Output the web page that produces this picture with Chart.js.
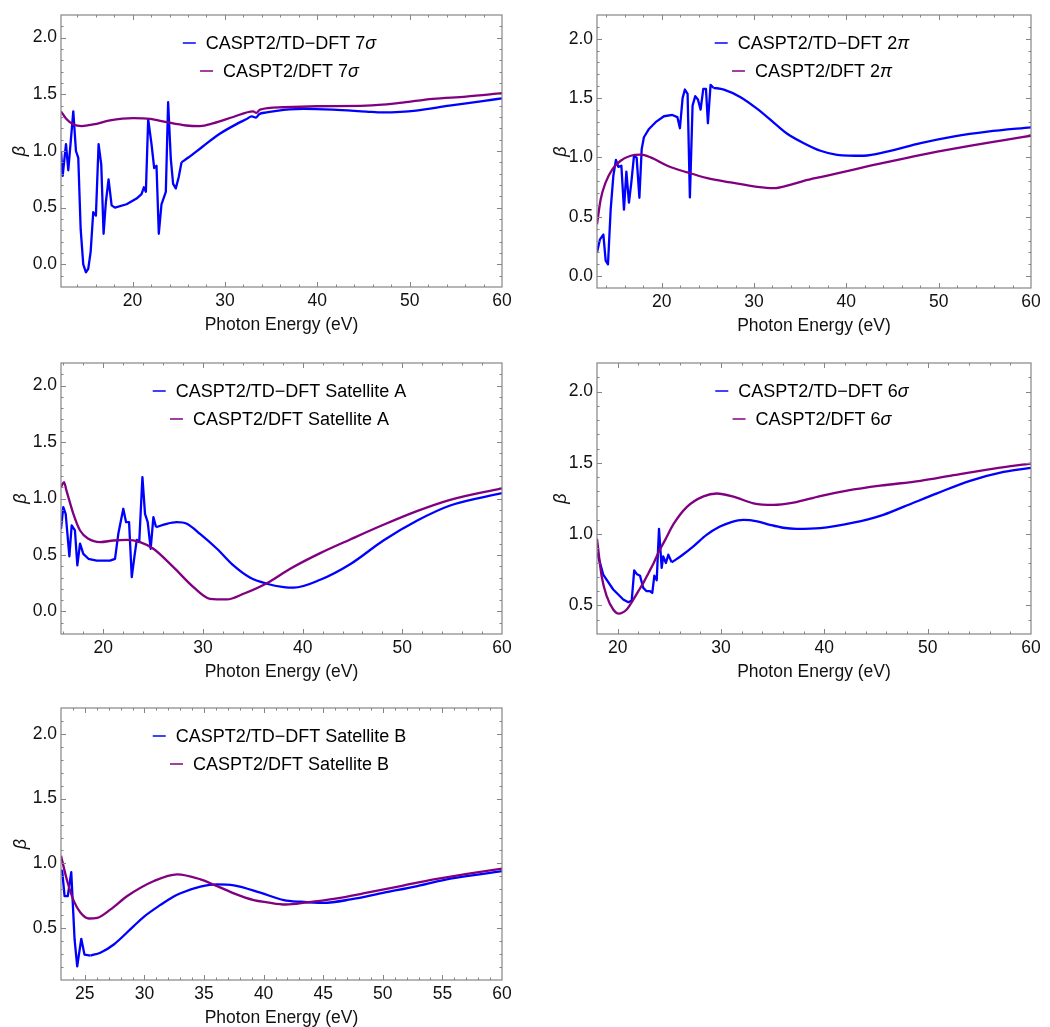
<!DOCTYPE html>
<html>
<head>
<meta charset="utf-8">
<title>Photoelectron asymmetry parameters</title>
<script src="https://cdn.jsdelivr.net/npm/chart.js@4.4.1/dist/chart.umd.min.js"></script>
<style>
  html, body { margin: 0; padding: 0; background: #fff; overflow: hidden; }
  #page { position: relative; width: 1050px; height: 1027px; }
  canvas { position: absolute; }
</style>
</head>
<body>
<div id="page">
  <canvas id="p7s" width="520" height="345" style="left:0;top:0"></canvas>
  <canvas id="p2pi" width="520" height="345" style="left:530px;top:0"></canvas>
  <canvas id="pSatA" width="520" height="345" style="left:0;top:345px"></canvas>
  <canvas id="p6s" width="520" height="345" style="left:530px;top:345px"></canvas>
  <canvas id="pSatB" width="520" height="345" style="left:0;top:690px"></canvas>
</div>
<script>
"use strict";

// beta parameters vs photon energy (eV)
// 7 sigma
let e7sTd = [12.25, 12.43, 12.79, 13.04, 13.58, 13.87, 14.12, 14.38, 14.66, 14.95, 15.2, 15.46, 15.74, 16.03,
  16.32, 16.61, 16.86, 17.11, 17.4, 17.73, 18.09, 19.35, 20.43, 20.97, 21.22, 21.44, 21.69, 22.05, 22.34,
  22.59, 22.84, 23.13, 23.6, 23.85, 24.14, 24.39, 24.68, 25.0, 25.3, 26.0, 27.6, 29.4, 31.2, 32.3, 32.9,
  33.35, 33.7, 34.5, 35.6, 37.0, 38.5, 41.7, 45.3, 47.1, 49.0, 50.7, 54.3, 57.9, 60];
let b7sTd = [1.0, 0.78, 1.06, 0.83, 1.35, 1.0, 0.94, 0.31, 0.0, -0.07, -0.04, 0.11, 0.46, 0.43,
  1.06, 0.88, 0.27, 0.55, 0.75, 0.52, 0.5, 0.53, 0.58, 0.62, 0.68, 0.64, 1.28, 1.06, 0.85,
  0.87, 0.27, 0.53, 0.64, 1.43, 0.93, 0.71, 0.67, 0.77, 0.9, 0.94, 1.04, 1.15, 1.235, 1.28, 1.305,
  1.295, 1.325, 1.34, 1.355, 1.368, 1.372, 1.365, 1.348, 1.34, 1.345, 1.357, 1.4, 1.44, 1.465];
let e7sDft = [12.25, 12.86, 13.6, 14.5, 15.75, 17.55, 20.07, 21.9, 23.7, 25.8, 27.3, 28.7, 30.9, 33.05,
  33.4, 33.8, 36.3, 39.9, 45.3, 48.9, 52.5, 56.1, 60];
let b7sDft = [1.35, 1.28, 1.234, 1.22, 1.234, 1.27, 1.29, 1.284, 1.254, 1.225, 1.22, 1.243, 1.3, 1.35,
  1.336, 1.365, 1.386, 1.395, 1.4, 1.424, 1.46, 1.48, 1.51];

// 2 pi
let e2piTd = [13.0, 13.32, 13.69, 13.94, 14.19, 14.48, 14.77, 15.05, 15.31, 15.64, 15.92, 16.18, 16.46, 16.72,
  17.0, 17.29, 17.59, 17.84, 18.08, 18.63, 19.35, 20.25, 21.16, 21.7, 21.98, 22.27, 22.52, 22.81, 23.06,
  23.35, 23.64, 23.93, 24.22, 24.51, 24.8, 25.01, 25.3, 25.6, 26.74, 28.55, 30.36, 32.52, 33.6, 35.4,
  37.2, 39.0, 41.9, 44.4, 48.05, 51.7, 55.3, 60];
let b2piTd = [0.2, 0.31, 0.35, 0.13, 0.1, 0.56, 0.845, 0.98, 0.92, 0.93, 0.56, 0.88, 0.62, 0.79,
  1.01, 1.0, 0.66, 1.07, 1.17, 1.24, 1.297, 1.347, 1.358, 1.34, 1.246, 1.5, 1.572, 1.536, 0.663,
  1.437, 1.516, 1.488, 1.403, 1.578, 1.578, 1.288, 1.612, 1.587, 1.572, 1.508, 1.409, 1.268, 1.2, 1.12,
  1.056, 1.022, 1.014, 1.048, 1.12, 1.177, 1.217, 1.254];
let e2piDft = [13.0, 13.4, 13.94, 14.66, 15.56, 16.65, 17.73, 18.81, 20.62, 22.78, 24.95, 27.47, 30.36, 32.15,
  33.6, 35.4, 37.2, 39.0, 42.6, 46.2, 49.85, 53.5, 57.1, 60];
let b2piDft = [0.437, 0.648, 0.79, 0.9, 0.972, 1.014, 1.023, 1.0, 0.93, 0.874, 0.826, 0.79, 0.752, 0.741,
  0.762, 0.803, 0.835, 0.865, 0.93, 0.99, 1.048, 1.1, 1.146, 1.183];

// satellite A
let eSatATd = [15.75, 15.98, 16.22, 16.59, 16.82, 17.15, 17.39, 17.66, 17.99, 18.5, 19.33, 20.67, 21.17, 21.5,
  22.0, 22.28, 22.58, 22.85, 23.11, 23.35, 23.6, 23.92, 24.18, 24.45, 24.75, 25.02, 25.29, 26.36, 27.36,
  28.37, 29.7, 31.4, 33.05, 34.7, 36.4, 38.1, 39.1, 41.76, 44.8, 48.1, 51.5, 54.8, 60];
let bSatATd = [0.73, 0.923, 0.864, 0.487, 0.761, 0.717, 0.407, 0.6, 0.51, 0.466, 0.45, 0.45, 0.466, 0.687,
  0.909, 0.79, 0.79, 0.304, 0.48, 0.634, 0.614, 1.19, 0.864, 0.79, 0.555, 0.835, 0.746, 0.776, 0.79,
  0.776, 0.687, 0.555, 0.407, 0.3, 0.245, 0.215, 0.21, 0.28, 0.42, 0.628, 0.805, 0.938, 1.047];
let eSatADft = [15.75, 16.05, 16.3, 16.99, 17.66, 18.5, 19.67, 21.0, 22.34, 23.68, 25.02, 27.03, 29.04, 30.7,
  32.4, 34.06, 36.4, 38.75, 41.76, 44.77, 48.1, 51.46, 54.8, 60];
let bSatADft = [1.1, 1.145, 1.07, 0.864, 0.717, 0.643, 0.614, 0.628, 0.634, 0.614, 0.555, 0.392, 0.215, 0.112,
  0.106, 0.156, 0.25, 0.378, 0.516, 0.637, 0.767, 0.888, 0.988, 1.09];

// 6 sigma
let e6sTd = [18.0, 18.12, 18.6, 19.57, 20.54, 21.03, 21.36, 21.6, 21.84, 22.16, 22.48, 22.8, 23.13, 23.35,
  23.55, 23.78, 24.0, 24.26, 24.41, 24.67, 24.9, 25.23, 26.2, 27.33, 28.6, 29.9, 31.0, 32.17, 33.5, 34.75,
  36.0, 37.3, 39.6, 42.8, 45.4, 47.7, 50.9, 54.1, 57.35, 60];
let b6sTd = [0.87, 0.844, 0.716, 0.612, 0.542, 0.523, 0.535, 0.746, 0.721, 0.709, 0.623, 0.6, 0.6, 0.588,
  0.709, 0.677, 1.037, 0.763, 0.844, 0.798, 0.856, 0.802, 0.85, 0.914, 0.995, 1.053, 1.085, 1.1, 1.09, 1.065,
  1.045, 1.037, 1.042, 1.08, 1.128, 1.193, 1.286, 1.374, 1.437, 1.465];
let e6sDft = [18.0, 18.45, 18.94, 19.57, 20.1, 20.87, 21.5, 22.0, 22.5, 23.0, 23.5, 24.0, 24.6, 25.4,
  26.68, 28.3, 29.6, 31.2, 33.14, 35.08, 37.0, 39.6, 42.2, 45.4, 49.3, 52.5, 56.4, 60];
let b6sDft = [0.967, 0.705, 0.565, 0.472, 0.443, 0.472, 0.54, 0.6, 0.66, 0.73, 0.8, 0.88, 0.96, 1.07,
  1.19, 1.265, 1.285, 1.263, 1.216, 1.205, 1.221, 1.267, 1.305, 1.34, 1.374, 1.414, 1.46, 1.495];

// satellite B
let eSatBTd = [23.0, 23.1, 23.3, 23.57, 23.86, 24.14, 24.36, 24.7, 24.97, 25.48, 26.3, 27.43, 29.1, 29.95,
  31.35, 32.46, 33.03, 34.7, 36.1, 37.5, 39.73, 41.7, 43.1, 45.0, 47.3, 50.1, 52.9, 55.67, 60];
let bSatBTd = [0.95, 0.941, 0.748, 0.748, 0.933, 0.413, 0.206, 0.418, 0.296, 0.289, 0.31, 0.374, 0.516, 0.588,
  0.68, 0.745, 0.77, 0.82, 0.838, 0.83, 0.774, 0.717, 0.704, 0.696, 0.722, 0.774, 0.825, 0.882, 0.94];
let eSatBDft = [23.0, 23.52, 24.08, 24.64, 25.34, 26.04, 27.16, 28.56, 30.8, 32.75, 34.7, 36.1, 37.5, 39.17,
  40.3, 41.83, 43.65, 45.88, 48.68, 51.5, 54.27, 57.07, 60];
let bSatBDft = [1.06, 0.864, 0.709, 0.62, 0.575, 0.58, 0.645, 0.748, 0.864, 0.916, 0.877, 0.825, 0.769, 0.717,
  0.7, 0.683, 0.7, 0.727, 0.774, 0.825, 0.877, 0.92, 0.96];

// tick labels
let xTicks = [20, 30, 40, 50, 60];
let xTicksSatB = [25, 30, 35, 40, 45, 50, 55, 60];
let yTicks = [0, 0.5, 1, 1.5, 2];
let yTicksHigh = [0.5, 1, 1.5, 2];

const BLUE = '#0000ff';
const PURPLE = '#800080';
const FONT = '"Liberation Sans", Arial, sans-serif';

function pts(xs, ys) {
  return xs.map((x, i) => ({x: x, y: ys[i]}));
}

// Mathematica-style frame: box with inward major and minor ticks on all four sides
const frameTicks = {
  id: 'frameTicks',
  afterDraw(chart, args, opts) {
    const {ctx, chartArea: a, scales: {x, y}} = chart;
    ctx.save();
    ctx.strokeStyle = '#858585';
    ctx.lineWidth = 1.2;
    ctx.strokeRect(a.left, a.top, a.right - a.left, a.bottom - a.top);
    ctx.lineWidth = 1;
    const run = (scale, step, len, horiz) => {
      const start = Math.ceil(scale.min / step - 1e-9);
      const end = Math.floor(scale.max / step + 1e-9);
      for (let k = start; k <= end; k++) {
        const p = Math.round(scale.getPixelForValue(k * step)) + 0.5;
        ctx.beginPath();
        if (horiz) {
          if (p < a.left + 1 || p > a.right - 1) continue;
          ctx.moveTo(p, a.bottom); ctx.lineTo(p, a.bottom - len);
          ctx.moveTo(p, a.top); ctx.lineTo(p, a.top + len);
        } else {
          if (p < a.top + 1 || p > a.bottom - 1) continue;
          ctx.moveTo(a.left, p); ctx.lineTo(a.left + len, p);
          ctx.moveTo(a.right, p); ctx.lineTo(a.right - len, p);
        }
        ctx.stroke();
      }
    };
    run(x, opts.xMinor, 2.5, true);
    run(x, opts.xMajor, 5, true);
    run(y, 0.1, 2.5, false);
    run(y, 0.5, 5, false);
    ctx.restore();
  }
};

// two-row legend centred inside the frame; greek letters set in italic
const curveLegend = {
  id: 'curveLegend',
  afterDraw(chart) {
    const {ctx, chartArea: a} = chart;
    const cx = (a.left + a.right) / 2 - 2;
    const greek = /([\u0370-\u03ff])/;
    const fontOf = p => (greek.test(p) ? 'italic ' : '') + '18px ' + FONT;
    ctx.save();
    ctx.textBaseline = 'middle';
    chart.data.datasets.filter(ds => ds.label).forEach((ds, i) => {
      const rowY = a.top + 28 + i * 28;
      const parts = ds.label.split(greek).filter(Boolean);
      let w = 0;
      parts.forEach(p => { ctx.font = fontOf(p); w += ctx.measureText(p).width; });
      let x = cx - (23 + w) / 2;
      ctx.strokeStyle = ds.borderColor;
      ctx.lineWidth = 1.5;
      ctx.beginPath();
      ctx.moveTo(x, rowY);
      ctx.lineTo(x + 13, rowY);
      ctx.stroke();
      x += 23;
      ctx.fillStyle = '#000';
      parts.forEach(p => {
        ctx.font = fontOf(p);
        ctx.fillText(p, x, rowY + 1);
        x += ctx.measureText(p).width;
      });
    });
    ctx.restore();
  }
};

function makePanel(id, cfg) {
  const ctx = document.getElementById(id).getContext('2d');
  const td = pts(cfg.eTd, cfg.bTd);
  // resonance region drawn point to point, the smooth continuum as a spline
  const tdRough = td.filter(p => p.x <= cfg.smoothFrom);
  const tdSmooth = td.filter(p => p.x >= cfg.smoothFrom);
  return new Chart(ctx, {
    type: 'line',
    data: {
      datasets: [{
        label: 'CASPT2/TD\u2212DFT ' + cfg.name,
        data: tdRough,
        borderColor: BLUE,
        borderWidth: 2.3,
        pointRadius: 0,
        tension: 0,
        borderJoinStyle: 'round',
        order: 2
      }, {
        label: 'CASPT2/DFT ' + cfg.name,
        data: pts(cfg.eDft, cfg.bDft),
        borderColor: PURPLE,
        borderWidth: 2.3,
        pointRadius: 0,
        cubicInterpolationMode: 'monotone',
        order: 0
      }, {
        label: '',
        data: tdSmooth,
        borderColor: BLUE,
        borderWidth: 2.3,
        pointRadius: 0,
        cubicInterpolationMode: 'monotone',
        order: 1
      }]
    },
    options: {
      responsive: false,
      animation: false,
      events: [],
      layout: {padding: {left: 0, top: cfg.padTop, right: cfg.padRight, bottom: cfg.padBottom}},
      plugins: {
        legend: {display: false},
        tooltip: {enabled: false},
        frameTicks: {xMajor: cfg.xMajor, xMinor: cfg.xMinor}
      },
      scales: {
        x: {
          type: 'linear',
          min: cfg.xMin,
          max: 60,
          afterBuildTicks: s => { s.ticks = cfg.xTicks.map(v => ({value: v})); },
          afterFit: s => { s.height = 53; },
          grid: {display: false, drawTicks: false},
          border: {display: false},
          ticks: {
            autoSkip: false,
            maxRotation: 0,
            padding: 4,
            color: '#111',
            font: {family: FONT, size: 17.5},
            callback: v => String(v)
          },
          title: {
            display: true,
            text: 'Photon Energy (eV)',
            color: '#111',
            font: {family: FONT, size: 17.5},
            padding: {top: 0, bottom: 4.5}
          }
        },
        y: {
          min: cfg.yMin,
          max: 2.2,
          afterBuildTicks: s => { s.ticks = cfg.yTicks.map(v => ({value: v})); },
          afterFit: s => { s.width = cfg.yWidth; },
          grid: {display: false, drawTicks: false},
          border: {display: false},
          ticks: {
            autoSkip: false,
            padding: 4,
            color: '#111',
            font: {family: FONT, size: 17.5},
            callback: v => v.toFixed(1)
          },
          title: {
            display: true,
            text: '\u03b2',
            color: '#111',
            font: {family: FONT, size: 18, style: 'italic'},
            padding: {top: cfg.betaPad, bottom: 0}
          }
        }
      }
    },
    plugins: [frameTicks, curveLegend]
  });
}

makePanel('p7s', {
  name: '7\u03c3', eTd: e7sTd, bTd: b7sTd, eDft: e7sDft, bDft: b7sDft, smoothFrom: 25.3,
  xMin: 12.25, yMin: -0.2, xTicks: xTicks, yTicks: yTicks, xMajor: 10, xMinor: 2,
  padTop: 15, padRight: 18, padBottom: 5, yWidth: 61, betaPad: 9
});
makePanel('p2pi', {
  name: '2\u03c0', eTd: e2piTd, bTd: b2piTd, eDft: e2piDft, bDft: b2piDft, smoothFrom: 25.6,
  xMin: 13, yMin: -0.1, xTicks: xTicks, yTicks: yTicks, xMajor: 10, xMinor: 2,
  padTop: 15, padRight: 19, padBottom: 4, yWidth: 67, betaPad: 20
});
makePanel('pSatA', {
  name: 'Satellite A', eTd: eSatATd, bTd: bSatATd, eDft: eSatADft, bDft: bSatADft, smoothFrom: 25.29,
  xMin: 15.75, yMin: -0.2, xTicks: xTicks, yTicks: yTicks, xMajor: 10, xMinor: 2,
  padTop: 18, padRight: 18, padBottom: 3, yWidth: 61, betaPad: 10
});
makePanel('p6s', {
  name: '6\u03c3', eTd: e6sTd, bTd: b6sTd, eDft: e6sDft, bDft: b6sDft, smoothFrom: 25.23,
  xMin: 18, yMin: 0.3, xTicks: xTicks, yTicks: yTicksHigh, xMajor: 10, xMinor: 2,
  padTop: 18, padRight: 19, padBottom: 3, yWidth: 67, betaPad: 20
});
makePanel('pSatB', {
  name: 'Satellite B', eTd: eSatBTd, bTd: bSatBTd, eDft: eSatBDft, bDft: bSatBDft, smoothFrom: 25.48,
  xMin: 23, yMin: 0.1, xTicks: xTicksSatB, yTicks: yTicksHigh, xMajor: 5, xMinor: 1,
  padTop: 18, padRight: 18, padBottom: 2, yWidth: 61, betaPad: 10
});
</script>
</body>
</html>
